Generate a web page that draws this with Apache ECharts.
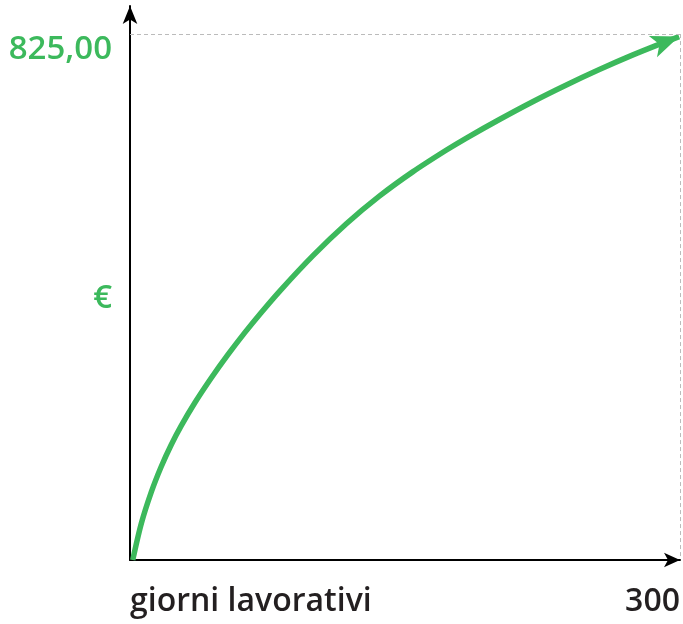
<!DOCTYPE html>
<html>
<head>
<meta charset="utf-8">
<script src="https://cdn.jsdelivr.net/npm/echarts@6/dist/echarts.min.js"></script>
<style>
html,body{margin:0;padding:0;background:#fff;}
#chart{width:683px;height:624px;}
</style>
</head>
<body>
<div id="chart"></div>
<script>
// giorni lavorativi (x) vs € (y)
const curveX = [1.5, 6.2, 11.6, 17, 22.5, 27.9, 35.2, 44.3, 53.4, 62.5, 71.5, 81.7, 99.8, 118, 136, 154.2, 172.4, 183.5, 201.5, 219.4, 238, 256, 274, 292, 299.5];
const curveY = [0, 57.6, 106.5, 146.3, 180.8, 210.3, 245.8, 285.4, 322.0, 356.2, 387.9, 421.9, 477.4, 527.4, 570.7, 608.8, 642.7, 661.9, 691.0, 718.5, 745.1, 769.3, 791.9, 812.7, 821.0];
const xMaxValue = 300;
const yMaxValue = 825;
const xLabels = ['giorni lavorativi', '300'];
const yLabels = ['€', '825,00'];

const GREEN = '#3cb95c';
const DARK = '#231f20';
const FONT = '"Open Sans", "Liberation Sans", Arial, sans-serif';

const data = curveX.map((x, i) => {
  const p = [x, curveY[i]];
  if (i === curveX.length - 1) {
    return { value: p, symbol: 'arrow', symbolSize: [17, 28], symbolRotate: -69, itemStyle: { color: GREEN } };
  }
  return { value: p, symbol: 'none' };
});

const chart = echarts.init(document.getElementById('chart'));
chart.setOption({
  animation: false,
  backgroundColor: '#fff',
  grid: { left: 130, right: 2, top: 6, bottom: 64, containLabel: false },
  xAxis: {
    type: 'value', min: 0, max: xMaxValue, interval: xMaxValue,
    axisLine: { show: true, lineStyle: { color: '#000', width: 2 }, symbol: ['none', 'arrow'], symbolSize: [11, 16] },
    axisTick: { show: false },
    splitLine: { show: false },
    axisLabel: {
      margin: 26, fontSize: 32, fontWeight: 600, color: DARK, fontFamily: FONT,
      alignMinLabel: 'left', alignMaxLabel: 'right',
      formatter: v => v === 0 ? xLabels[0] : (v === xMaxValue ? xLabels[1] : '')
    }
  },
  yAxis: {
    type: 'value', min: 0, max: 869, interval: yMaxValue / 2,
    axisLine: { show: true, lineStyle: { color: '#000', width: 2 }, symbol: ['none', 'arrow'], symbolSize: [11, 18] },
    axisTick: { show: false },
    splitLine: { show: false },
    axisLabel: {
      margin: 18, fontSize: 33, color: GREEN, fontFamily: FONT,
      showMinLabel: false, showMaxLabel: false,
      formatter: v => v === yMaxValue / 2 ? '{e|' + yLabels[0] + '}' : (v === yMaxValue ? '{n|' + yLabels[1] + '}' : ''),
      rich: {
        e: { fontSize: 33, fontWeight: 600, color: GREEN, fontFamily: FONT, padding: [4, 0, 0, 0] },
        n: { fontSize: 33, fontWeight: 600, color: GREEN, fontFamily: FONT, padding: [32, 0, 0, 0] }
      }
    }
  },
  series: [{
    type: 'line',
    data: data,
    smooth: 0.3,
    showSymbol: true,
    lineStyle: { color: GREEN, width: 5.5 },
    itemStyle: { color: GREEN },
    z: 3,
    markLine: {
      silent: true,
      symbol: ['none', 'none'],
      label: { show: false },
      lineStyle: { color: '#bbbbbb', width: 1, type: [4, 3] },
      data: [
        [{ coord: [0, yMaxValue] }, { coord: [xMaxValue, yMaxValue] }],
        [{ coord: [xMaxValue, yMaxValue] }, { coord: [xMaxValue, 6] }]
      ]
    }
  }]
});
</script>
</body>
</html>
